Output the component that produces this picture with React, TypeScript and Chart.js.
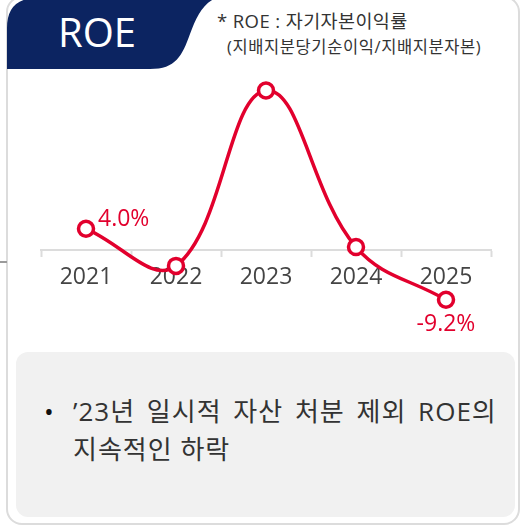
import React, { useEffect, useRef } from 'react';
import { Chart, registerables } from 'chart.js';

Chart.register(...registerables);

const years = ['2021', '2022', '2023', '2024', '2025'];
const roeValues = [4.0, -2.9, 29.7, 0.6, -9.2];
const valueLabels = ['4.0%', '', '', '', '-9.2%'];
const yMin = -15;
const yMax = 35;

const titleText = 'ROE';
const noteLine1 = '* ROE : 자기자본이익률';
const noteLine2 = '(지배지분당기순이익/지배지분자본)';
const bulletLine1 = '’23년 일시적 자산 처분 제외 ROE의';
const bulletLine2 = '지속적인 하락';

const RED = '#e2002d';
const NAVY = '#0c2461';
const FONT = "'Open Sans', 'Noto Sans CJK KR', sans-serif";

const labelPlugin = {
  id: 'valueLabels',
  afterDatasetsDraw(chart: any) {
    const ctx = chart.ctx;
    const meta = chart.getDatasetMeta(0);
    ctx.save();
    ctx.font = `400 23px ${FONT}`;
    ctx.fillStyle = RED;
    ctx.textBaseline = 'middle';
    meta.data.forEach((pt: any, i: number) => {
      const txt = valueLabels[i];
      if (!txt) return;
      if (roeValues[i] >= 0) {
        ctx.textAlign = 'left';
        ctx.fillText(txt, pt.x + 12, pt.y - 9);
      } else {
        ctx.textAlign = 'center';
        ctx.fillText(txt, pt.x, pt.y + 25);
      }
    });
    ctx.restore();
  },
};

function ChartCanvas() {
  const ref = useRef<HTMLCanvasElement | null>(null);
  useEffect(() => {
    if (!ref.current) return;
    const chart = new Chart(ref.current, {
      type: 'line',
      data: {
        labels: years,
        datasets: [
          {
            data: roeValues,
            borderColor: RED,
            borderWidth: 3.5,
            tension: 0.4,
            pointRadius: 7.5,
            pointHoverRadius: 7.5,
            pointBorderWidth: 3.5,
            pointBackgroundColor: '#ffffff',
            pointBorderColor: RED,
            fill: false,
          },
        ],
      },
      options: {
        responsive: false,
        animation: false,
        devicePixelRatio: 1,
        layout: { padding: { left: 41, right: 29, top: 62, bottom: 19 } },
        plugins: { legend: { display: false }, tooltip: { enabled: false } },
        scales: {
          y: { display: false, min: yMin, max: yMax },
          x: {
            position: { y: 0 } as any,
            offset: true,
            grid: {
              display: true,
              offset: true,
              drawOnChartArea: false,
              drawTicks: true,
              tickLength: 6,
              tickWidth: 2,
              color: '#dcdcdc',
            },
            border: { display: true, color: '#dcdcdc', width: 2 },
            ticks: {
              color: '#444444',
              padding: 7,
              font: { family: FONT, size: 23, weight: '400' as any },
              maxRotation: 0,
            },
          },
        },
      },
      plugins: [labelPlugin],
    });
    return () => chart.destroy();
  }, []);
  return (
    <canvas
      ref={ref}
      width={520}
      height={350}
      style={{ position: 'absolute', left: 0, top: 0, width: 520, height: 350 }}
    />
  );
}

export default function App() {
  return (
    <div
      style={{
        position: 'absolute',
        left: 0,
        top: 0,
        width: 520,
        height: 526,
        overflow: 'hidden',
        background: '#ffffff',
        fontFamily: FONT,
      }}
    >
      <div
        style={{
          position: 'absolute',
          left: 6,
          top: -4,
          width: 514,
          height: 529,
          border: '2px solid #dcdcdc',
          borderRadius: 16,
          boxSizing: 'border-box',
        }}
      />
      <div style={{ position: 'absolute', left: 0, top: 261, width: 7, height: 2, background: '#9a9a9a' }} />
      <svg width={520} height={80} style={{ position: 'absolute', left: 0, top: 0 }}>
        <path
          d="M 7 69 L 7 28 Q 7 -2 37 -2 L 216 -2 C 202 4 196 18 190 34 C 182 56 176 69 150 69 Z"
          fill={NAVY}
        />
      </svg>
      <div
        style={{
          position: 'absolute',
          left: 8,
          top: 12,
          width: 178,
          textAlign: 'center',
          color: '#ffffff',
          fontSize: 40,
          lineHeight: '40px',
          fontWeight: 500,
        }}
      >
        {titleText}
      </div>
      <div
        style={{
          position: 'absolute',
          left: 217,
          top: 12,
          color: '#333333',
          fontSize: 18.5,
          lineHeight: '18.5px',
          letterSpacing: 0.4,
          whiteSpace: 'nowrap',
        }}
      >
        {noteLine1}
      </div>
      <div
        style={{
          position: 'absolute',
          left: 227,
          top: 39,
          color: '#333333',
          fontSize: 16.5,
          lineHeight: '16.5px',
          letterSpacing: 0.6,
          whiteSpace: 'nowrap',
        }}
      >
        {noteLine2}
      </div>
      <div
        style={{
          position: 'absolute',
          left: 16,
          top: 352,
          width: 499,
          height: 165,
          borderRadius: 12,
          background: '#f1f1f1',
        }}
      />
      <div
        style={{
          position: 'absolute',
          left: 44,
          top: 395,
          color: '#111111',
          fontSize: 26,
          lineHeight: '33px',
        }}
      >
        •
      </div>
      <div
        style={{
          position: 'absolute',
          left: 73,
          top: 395,
          color: '#333333',
          fontSize: 26,
          lineHeight: '33px',
          letterSpacing: 1,
          wordSpacing: 4,
          whiteSpace: 'nowrap',
        }}
      >
        {bulletLine1}
      </div>
      <div
        style={{
          position: 'absolute',
          left: 73,
          top: 433,
          color: '#333333',
          fontSize: 26,
          lineHeight: '33px',
          letterSpacing: 1,
          whiteSpace: 'nowrap',
        }}
      >
        {bulletLine2}
      </div>
      <ChartCanvas />
    </div>
  );
}
